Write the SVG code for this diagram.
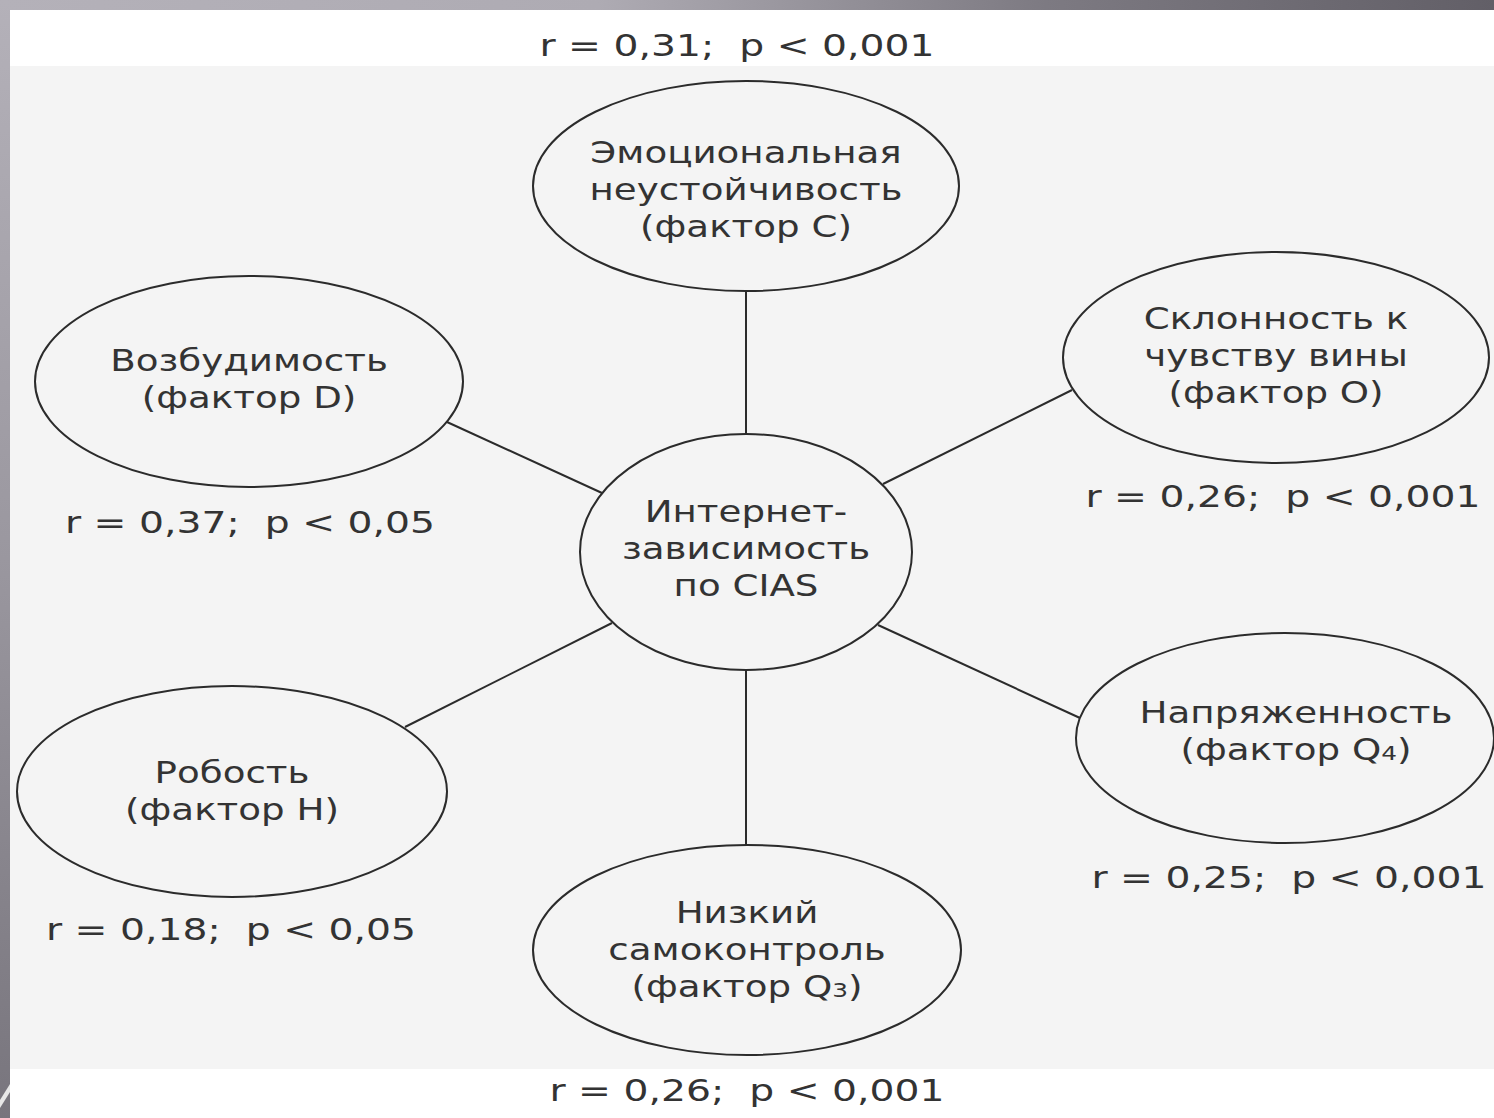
<svg xmlns="http://www.w3.org/2000/svg" width="1494" height="1118" viewBox="0 0 1494 1118">
<style>
.node ellipse{fill:#f4f4f4;stroke:#2b2b2b;stroke-width:2}
.conn line{stroke:#2b2b2b;stroke-width:2}
text{font-family:"DejaVu Sans","Verdana",sans-serif;font-size:30px;fill:#333333;text-anchor:middle;white-space:pre}
.sub{font-size:20px}
</style>
<defs>
<linearGradient id="topbar" x1="0" y1="0" x2="1" y2="0">
<stop offset="0" stop-color="#b4b1b9"/>
<stop offset="0.4" stop-color="#aeabb3"/>
<stop offset="0.7" stop-color="#7d7a82"/>
<stop offset="1" stop-color="#625f67"/>
</linearGradient>
<linearGradient id="leftbar" x1="0" y1="0" x2="0" y2="1">
<stop offset="0" stop-color="#b4b1b9"/>
<stop offset="0.5" stop-color="#9a979f"/>
<stop offset="1" stop-color="#78757d"/>
</linearGradient>
</defs>
<rect x="0" y="0" width="1494" height="1118" fill="#ffffff"/>
<rect x="10" y="66" width="1484" height="1003" fill="#f4f4f4"/>
<rect x="0" y="0" width="1494" height="10" fill="url(#topbar)"/>
<rect x="0" y="0" width="10" height="1118" fill="url(#leftbar)"/>
<path d="M0 1100 L10 1084 L10 1092 L0 1108 Z" fill="#e8e8e8"/>

<g id="connectors" class="conn">
<line x1="746" y1="291" x2="746" y2="434"/>
<line x1="746" y1="670" x2="746" y2="846"/>
<line x1="447" y1="422" x2="602" y2="493"/>
<line x1="1072" y1="390" x2="883" y2="484"/>
<line x1="405" y1="727" x2="612" y2="623"/>
<line x1="878" y1="625" x2="1080" y2="718"/>
</g>

<g id="label-top"><g transform="translate(737 0) scale(1.31 1)"><text x="0" y="56" xml:space="preserve">r = 0,31;  p &lt; 0,001</text></g></g>

<g id="node-center" class="node">
<ellipse cx="746" cy="552" rx="166" ry="118"/>
<g transform="translate(746 0) scale(1.24 1)">
<text x="0" y="522">Интернет-</text>
<text x="0" y="559">зависимость</text>
<text x="0" y="596">по CIAS</text>
</g>
</g>

<g id="node-c" class="node">
<ellipse cx="746" cy="186" rx="213" ry="105"/>
<g transform="translate(746 0) scale(1.24 1)">
<text x="0" y="163">Эмоциональная</text>
<text x="0" y="200">неустойчивость</text>
<text x="0" y="237">(фактор С)</text>
</g>
</g>

<g id="node-d" class="node">
<ellipse cx="249" cy="381.5" rx="214" ry="105.5"/>
<g transform="translate(249 0) scale(1.24 1)">
<text x="0" y="371">Возбудимость</text>
<text x="0" y="408">(фактор D)</text>
</g>
<g transform="translate(250 0) scale(1.31 1)"><text x="0" y="533" xml:space="preserve">r = 0,37;  p &lt; 0,05</text></g>
</g>

<g id="node-o" class="node">
<ellipse cx="1276" cy="357.5" rx="213" ry="105.5"/>
<g transform="translate(1276 0) scale(1.24 1)">
<text x="0" y="329">Склонность к</text>
<text x="0" y="366">чувству вины</text>
<text x="0" y="403">(фактор О)</text>
</g>
<g transform="translate(1283 0) scale(1.31 1)"><text x="0" y="507" xml:space="preserve">r = 0,26;  p &lt; 0,001</text></g>
</g>

<g id="node-h" class="node">
<ellipse cx="232" cy="791.5" rx="215" ry="105.5"/>
<g transform="translate(232 0) scale(1.24 1)">
<text x="0" y="783">Робость</text>
<text x="0" y="820">(фактор H)</text>
</g>
<g transform="translate(231 0) scale(1.31 1)"><text x="0" y="940" xml:space="preserve">r = 0,18;  p &lt; 0,05</text></g>
</g>

<g id="node-q4" class="node">
<ellipse cx="1285" cy="738" rx="209" ry="105"/>
<g transform="translate(1296 0) scale(1.24 1)">
<text x="0" y="723">Напряженность</text>
<text x="0" y="760">(фактор Q<tspan class="sub">4</tspan>)</text>
</g>
<g transform="translate(1289 0) scale(1.31 1)"><text x="0" y="888" xml:space="preserve">r = 0,25;  p &lt; 0,001</text></g>
</g>

<g id="node-q3" class="node">
<ellipse cx="747" cy="950" rx="214" ry="105"/>
<g transform="translate(747 0) scale(1.24 1)">
<text x="0" y="923">Низкий</text>
<text x="0" y="960">самоконтроль</text>
<text x="0" y="997">(фактор Q<tspan class="sub">3</tspan>)</text>
</g>
<g transform="translate(747 0) scale(1.31 1)"><text x="0" y="1101" xml:space="preserve">r = 0,26;  p &lt; 0,001</text></g>
</g>
</svg>
